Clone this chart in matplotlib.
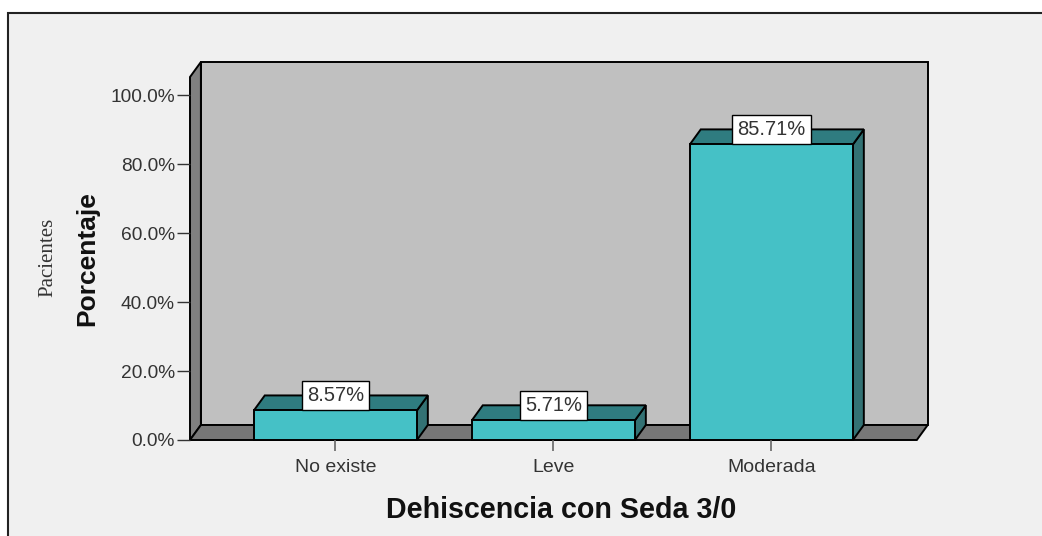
import matplotlib.pyplot as plt
from matplotlib.patches import Polygon, Rectangle

categories = ["No existe", "Leve", "Moderada"]
values = [8.57, 5.71, 85.71]
yticks = [0, 20, 40, 60, 80, 100]

W, H = 1042, 536
fig = plt.figure(figsize=(W / 100, H / 100), dpi=100)
fig.patch.set_facecolor("white")
plt.rcParams["font.family"] = ["Liberation Sans", "DejaVu Sans"]

# outer panel (only left and top edges visible)
fig.patches.append(Rectangle((8 / W, -0.1), 1.2, 0.1 + 1 - 13 / H,
                             transform=fig.transFigure, facecolor="#f0f0f0",
                             edgecolor="#222222", lw=1.5, zorder=-10))

ax = fig.add_axes([190 / W, 96 / H, 738 / W, 378 / H])
ax.patch.set_visible(False)
for s in ax.spines.values():
    s.set_visible(False)

x0, x1 = -0.667, 2.667
dx, dy = 0.05, 4.35
top = 109.6
ax.set_xlim(x0, x0 + 738 / 218)
ax.set_ylim(0, top)

edge = dict(edgecolor="black", lw=1.4, joinstyle="miter")
# back wall, left wall, floor
ax.add_patch(Polygon([(x0 + dx, dy), (x1 + dx, dy), (x1 + dx, top), (x0 + dx, top)],
                     facecolor="#c0c0c0", clip_on=False, **edge))
ax.add_patch(Polygon([(x0, 0), (x0 + dx, dy), (x0 + dx, top), (x0, top - dy)],
                     facecolor="#808080", clip_on=False, **edge))
ax.add_patch(Polygon([(x0, 0), (x1, 0), (x1 + dx, dy), (x0 + dx, dy)],
                     facecolor="#777777", clip_on=False, **edge))

w = 0.748
fs_val = 14.5
pad = 0.25
for i, v in enumerate(values):
    l, r = i - w / 2, i + w / 2
    ax.add_patch(Polygon([(r, 0), (r + dx, dy), (r + dx, v + dy), (r, v)],
                         facecolor="#337274", clip_on=False, **edge))
    ax.add_patch(Polygon([(l, v), (r, v), (r + dx, v + dy), (l + dx, v + dy)],
                         facecolor="#2f7c80", clip_on=False, **edge))
    ax.add_patch(Rectangle((l, 0), w, v, facecolor="#45c1c6", clip_on=False, **edge))
    ax.annotate(f"{v:.2f}%", (i, v), xytext=(0, pad * fs_val), textcoords="offset points",
                ha="center", va="bottom", fontsize=fs_val, color="#333333", zorder=10,
                bbox=dict(boxstyle=f"square,pad={pad}", facecolor="white",
                          edgecolor="black", lw=1.0))

ax.set_yticks(yticks)
ax.set_yticklabels([f"{t:.1f}%" for t in yticks])
ax.tick_params(axis="y", length=9.4, width=1.0, color="#333333", pad=1.5,
               labelsize=13.8, labelcolor="#333333")
ax.set_xticks(range(len(categories)))
ax.set_xticklabels(categories)
ax.tick_params(axis="x", length=8, width=1.2, color="#666666", pad=6,
               labelsize=14, labelcolor="#333333")

fig.text(87 / W, 277 / H, "Porcentaje", rotation=90, ha="center", va="center",
         fontsize=19, fontweight="bold", color="#111111")
fig.text(48 / W, 279 / H, "Pacientes", rotation=90, ha="center", va="center",
         fontsize=15, family="Liberation Serif", color="#333333")
fig.text(561 / W, 26 / H, "Dehiscencia con Seda 3/0", ha="center", va="center",
         fontsize=20.6, fontweight="bold", color="#111111")

fig.savefig("out.png", dpi=100)
